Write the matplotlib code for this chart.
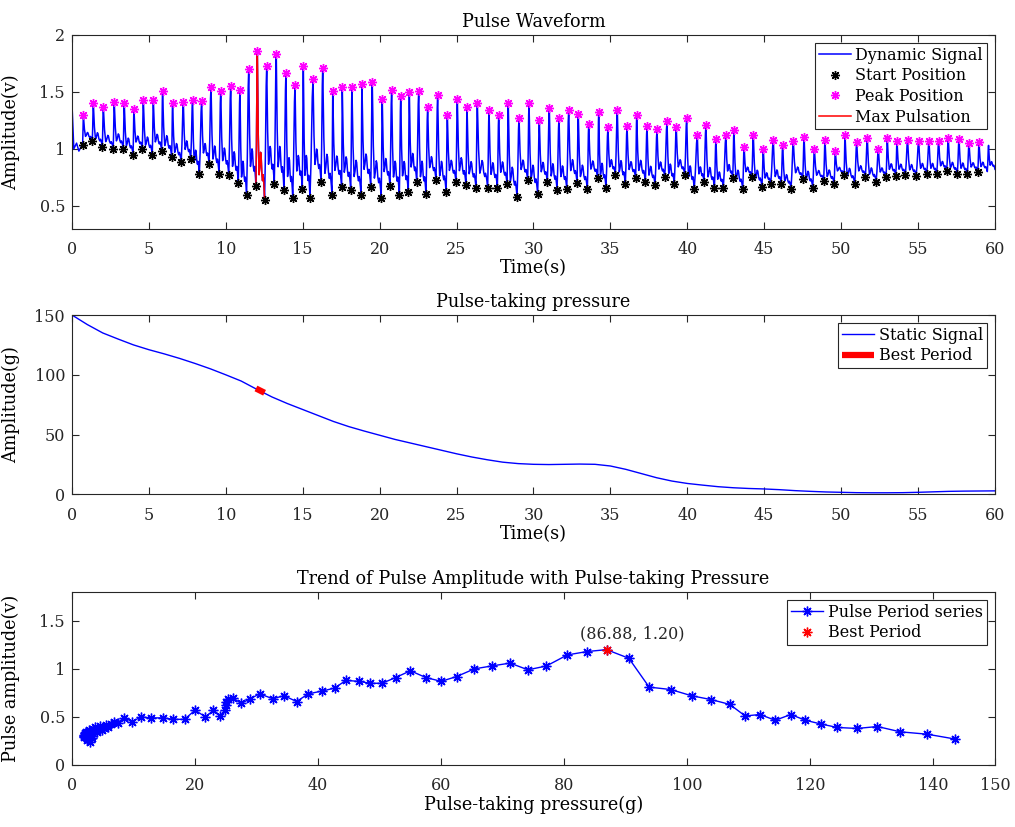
import numpy as np
import matplotlib
matplotlib.use("Agg")
import matplotlib.pyplot as plt
from matplotlib.ticker import FuncFormatter

# ---------------- Panel 1: pulse waveform ----------------
start_t = [0.69, 1.32, 1.97, 2.68, 3.33, 3.97, 4.57, 5.22, 5.83, 6.48, 7.10, 7.72, 8.28, 8.91, 9.56,
           10.19, 10.81, 11.35, 11.96, 12.52, 13.15, 13.78, 14.35, 14.97, 15.47, 16.19, 16.90, 17.53,
           18.12, 18.79, 19.42, 20.10, 20.67, 21.28, 21.86, 22.41, 23.01, 23.66, 24.32, 24.96, 25.61,
           26.26, 27.02, 27.65, 28.28, 28.93, 29.62, 30.27, 30.90, 31.53, 32.16, 32.83, 33.50, 34.17,
           34.71, 35.32, 35.97, 36.64, 37.27, 37.90, 38.53, 39.15, 39.83, 40.45, 41.08, 41.76, 42.34,
           42.95, 43.60, 44.19, 44.85, 45.42, 46.10, 46.74, 47.50, 48.15, 48.86, 49.54, 50.19, 50.88,
           51.57, 52.27, 52.92, 53.55, 54.17, 54.87, 55.56, 56.21, 56.86, 57.55, 58.20, 58.88]
start_v = [1.03, 1.07, 1.02, 1.00, 1.00, 0.95, 1.00, 0.95, 0.985, 0.93, 0.88, 0.91, 0.78, 0.87, 0.78,
           0.77, 0.70, 0.595, 0.67, 0.55, 0.687, 0.64, 0.57, 0.65, 0.57, 0.71, 0.595, 0.667,
           0.64, 0.595, 0.667, 0.57, 0.67, 0.595, 0.62, 0.705, 0.60, 0.725, 0.617, 0.71, 0.68,
           0.66, 0.66, 0.66, 0.69, 0.574, 0.725, 0.60, 0.705, 0.64, 0.65, 0.70, 0.643, 0.74,
           0.66, 0.77, 0.687, 0.74, 0.71, 0.68, 0.75, 0.69, 0.77, 0.65, 0.71, 0.66, 0.66,
           0.74, 0.646, 0.754, 0.667, 0.69, 0.69, 0.65, 0.733, 0.66, 0.72, 0.69, 0.77, 0.69,
           0.754, 0.71, 0.754, 0.763, 0.77, 0.76, 0.78, 0.78, 0.806, 0.78, 0.776, 0.797]
peak_t = [0.74, 1.39, 2.04, 2.75, 3.40, 4.03, 4.64, 5.29, 5.89, 6.54, 7.24, 7.84, 8.43, 9.04, 9.67,
          10.32, 10.92, 11.49, 12.05, 12.66, 13.28, 13.91, 14.50, 15.04, 15.67, 16.30, 16.95, 17.57,
          18.20, 18.85, 19.52, 20.17, 20.78, 21.37, 21.93, 22.54, 23.12, 23.77, 24.40, 25.05, 25.68,
          26.35, 27.11, 27.74, 28.36, 29.06, 29.71, 30.38, 31.03, 31.66, 32.29, 32.91, 33.59, 34.24,
          34.84, 35.45, 36.08, 36.71, 37.38, 38.03, 38.68, 39.28, 39.96, 40.65, 41.21, 41.86, 42.51,
          43.03, 43.69, 44.29, 44.94, 45.59, 46.20, 46.89, 47.59, 48.26, 48.95, 49.62, 50.25, 51.01,
          51.70, 52.42, 53.00, 53.63, 54.32, 55.04, 55.71, 56.34, 56.96, 57.66, 58.31, 58.96]
peak_v = [1.30, 1.40, 1.37, 1.41, 1.40, 1.35, 1.43, 1.43, 1.51, 1.40, 1.41, 1.43, 1.42, 1.545, 1.51,
          1.556, 1.52, 1.70, 1.86, 1.73, 1.83, 1.67, 1.56, 1.73, 1.61, 1.71, 1.51, 1.545,
          1.545, 1.565, 1.585, 1.435, 1.52, 1.46, 1.50, 1.51, 1.37, 1.47, 1.30, 1.435, 1.37,
          1.40, 1.34, 1.30, 1.40, 1.275, 1.40, 1.255, 1.355, 1.275, 1.34, 1.31, 1.22, 1.325,
          1.19, 1.34, 1.20, 1.30, 1.20, 1.17, 1.24, 1.19, 1.275, 1.12, 1.21, 1.087, 1.12,
          1.165, 1.02, 1.12, 1.00, 1.08, 1.035, 1.067, 1.107, 1.00, 1.078, 0.98, 1.124, 1.058,
          1.093, 1.00, 1.093, 1.067, 1.078, 1.067, 1.067, 1.067, 1.096, 1.087, 1.05, 1.058]
lead_t = [0.00, 0.02, 0.12, 0.30, 0.45, 0.60]
lead_v = [0.30, 1.33, 1.00, 1.05, 0.98, 1.02]
tail_t = [59.50, 59.58, 60.00]
tail_v = [0.80, 1.03, 0.82]
max_beat = 19  # beat drawn as "Max Pulsation"

# ---------------- Panel 2: pulse-taking pressure ----------------
time_s = list(range(0, 61))
press_g = [150, 142, 135, 129.9, 125, 121, 117.5, 113.7, 109.5, 105, 100, 94.8, 88, 81.5, 76, 71,
           66, 61, 56.7, 53, 49.5, 46, 43, 40, 37, 34, 31.3, 29, 27, 25.8, 25.2, 25, 25.2, 25.4,
           25.2, 23.8, 21, 17.5, 14, 11.2, 9.2, 7.8, 6.5, 5.6, 5, 4.6, 4, 3.2, 2.6, 2.1, 1.8, 1.5,
           1.4, 1.4, 1.5, 1.8, 2.2, 2.6, 2.8, 2.9, 3.0]
best_t = [11.96, 12.52]
best_g = [88.6, 85.0]

# ---------------- Panel 3: pulse amplitude vs pressure ----------------
period_p = [143.5, 139.0, 134.6, 130.9, 127.6, 124.4, 121.8, 119.2, 116.8, 114.3, 111.8, 109.4, 106.9,
            103.9, 100.7, 97.3, 93.8, 90.5, 86.88, 83.7, 80.5, 77.1, 74.1, 71.2, 68.2, 65.4, 62.5,
            60.0, 57.5, 55.0, 52.6, 50.4, 48.5, 46.6, 44.5, 42.7, 40.7, 38.4, 36.5, 34.5, 32.6,
            30.5, 29.0, 27.5, 26.1, 25.3, 25.1, 25.0, 24.8, 24.1, 23.0, 21.7, 20.0, 18.3, 16.5,
            14.8, 12.9, 11.2, 9.8, 8.5, 7.4, 6.8, 6.3, 5.9, 5.5, 5.2, 4.9, 4.6, 4.3, 4.1, 3.8,
            3.6, 3.4, 3.2, 3.0, 2.8, 2.6, 2.4, 2.3, 2.2, 2.1, 2.0, 2.0, 2.0, 2.1, 2.2, 2.4, 2.6,
            2.8, 3.0, 3.2, 3.3]
period_a = [0.27, 0.32, 0.345, 0.40, 0.38, 0.39, 0.425, 0.465, 0.525, 0.465, 0.525, 0.51, 0.63,
            0.68, 0.72, 0.785, 0.81, 1.11, 1.20, 1.18, 1.145, 1.03, 0.99, 1.06, 1.03, 1.00, 0.92,
            0.87, 0.91, 0.98, 0.91, 0.85, 0.85, 0.87, 0.88, 0.80, 0.77, 0.74, 0.66, 0.72, 0.69,
            0.74, 0.69, 0.64, 0.70, 0.69, 0.66, 0.62, 0.57, 0.51, 0.57, 0.50, 0.57, 0.475, 0.475,
            0.49, 0.49, 0.50, 0.45, 0.49, 0.44, 0.45, 0.43, 0.40, 0.42, 0.38, 0.36, 0.41, 0.37,
            0.34, 0.39, 0.35, 0.37, 0.34, 0.30, 0.36, 0.33, 0.29, 0.34, 0.31, 0.30, 0.31, 0.29,
            0.30, 0.33, 0.29, 0.26, 0.31, 0.27, 0.24, 0.30, 0.28]
best_p = 86.88
best_a = 1.20

# ---------------- waveform shape template (style of one beat) ----------------
rise_f = [0.0, 0.35, 0.75, 1.0]
rise_g = [0.0, 0.30, 0.85, 1.0]
fall_f = [0.0, 0.05, 0.12, 0.24, 0.34, 0.45, 0.52, 0.62, 0.72, 0.80, 0.87, 0.94, 1.0]
fall_g = [1.0, 0.78, 0.45, 0.17, 0.22, 0.32, 0.30, 0.18, 0.13, 0.17, 0.13, 0.07, 0.0]


def beat_segment(ts, vs, tp, vp, te, ve, include_end=False):
    tt, vv = [], []
    for f, g in zip(rise_f, rise_g):
        tt.append(ts + f * (tp - ts))
        vv.append(vs + g * (vp - vs))
    ff = fall_f[1:] if include_end else fall_f[1:-1]
    gg = fall_g[1:] if include_end else fall_g[1:-1]
    for f, g in zip(ff, gg):
        tt.append(tp + f * (te - tp))
        vv.append(ve + g * (vp - ve))
    return tt, vv


wave_t = list(lead_t)
wave_v = list(lead_v)
red_t, red_v = None, None
n = len(start_t)
for i in range(n):
    if i < n - 1:
        te, ve = start_t[i + 1], start_v[i + 1]
    else:
        te, ve = tail_t[0], tail_v[0]
    tt, vv = beat_segment(start_t[i], start_v[i], peak_t[i], peak_v[i], te, ve)
    wave_t += tt
    wave_v += vv
    if i == max_beat - 1:
        red_t, red_v = beat_segment(start_t[i], start_v[i], peak_t[i], peak_v[i], te, ve,
                                    include_end=True)
tt, vv = beat_segment(tail_t[0], tail_v[0], tail_t[1], tail_v[1], tail_t[2], tail_v[2],
                      include_end=True)
wave_t += tt
wave_v += vv

# ---------------- figure ----------------
plt.rcParams['font.family'] = ['DejaVu Serif']
plt.rcParams['mathtext.fontset'] = 'dejavuserif'
AX_COL = '#262626'
TICK_FS = 11.5
LAB_FS = 12.7

fig = plt.figure(figsize=(10.15, 8.27), dpi=100)
ax1 = fig.add_axes([0.0709, 0.7237, 0.9094, 0.2340])
ax2 = fig.add_axes([0.0709, 0.4021, 0.9094, 0.2170])
ax3 = fig.add_axes([0.0709, 0.0750, 0.9094, 0.2092])

fmt = FuncFormatter(lambda v, p: '%g' % v)
ast = (8, 2, 0)


def style(ax):
    for s in ax.spines.values():
        s.set_color(AX_COL)
        s.set_linewidth(0.8)
    ax.tick_params(direction='in', length=5, width=0.8, colors=AX_COL, labelsize=TICK_FS,
                   top=True, right=True, labelcolor='#262626')
    ax.tick_params(axis='x', pad=9)
    ax.tick_params(axis='y', pad=5)
    ax.yaxis.set_major_formatter(fmt)
    ax.xaxis.set_major_formatter(fmt)


def legend(ax, handles, labels):
    lg = ax.legend(handles, labels, loc='upper right', fontsize=TICK_FS, fancybox=False,
                   framealpha=1, edgecolor=AX_COL, borderpad=0.25, labelspacing=0.22,
                   handlelength=2.0, handletextpad=0.3, borderaxespad=0.5)
    lg.get_frame().set_linewidth(0.8)
    return lg


# Panel 1
l_dyn, = ax1.plot(wave_t, wave_v, color='#0000ff', lw=1.1, zorder=2)
l_red, = ax1.plot(red_t, red_v, color='#ff0000', lw=1.1, zorder=3)
l_st, = ax1.plot(start_t, start_v, ls='none', marker=ast, ms=6.5, mew=1.0, color='black', zorder=4)
l_pk, = ax1.plot(peak_t, peak_v, ls='none', marker=ast, ms=6.5, mew=1.0, color='#ff00ff', zorder=4)
ax1.set_xlim(0, 60)
ax1.set_ylim(0.3, 2)
ax1.set_xticks(np.arange(0, 61, 5))
ax1.set_yticks([0.5, 1, 1.5, 2])
style(ax1)
ax1.set_title('Pulse Waveform', fontsize=LAB_FS, color='black', pad=6)
ax1.set_xlabel('Time(s)', fontsize=LAB_FS, labelpad=1)
ax1.set_ylabel('Amplitude(v)', fontsize=LAB_FS)
legend(ax1, [l_dyn, l_st, l_pk, l_red],
       ['Dynamic Signal', 'Start Position', 'Peak Position', 'Max Pulsation'])

# Panel 2
l_stat, = ax2.plot(time_s, press_g, color='#0000ff', lw=1.0, zorder=2)
l_best, = ax2.plot(best_t, best_g, color='#ff0000', lw=4.5, solid_capstyle='butt', zorder=3)
ax2.set_xlim(0, 60)
ax2.set_ylim(0, 150)
ax2.set_xticks(np.arange(0, 61, 5))
ax2.set_yticks([0, 50, 100, 150])
style(ax2)
ax2.set_title('Pulse-taking pressure', fontsize=LAB_FS, color='black', pad=6)
ax2.set_xlabel('Time(s)', fontsize=LAB_FS, labelpad=1)
ax2.set_ylabel('Amplitude(g)', fontsize=LAB_FS)
legend(ax2, [l_stat, l_best], ['Static Signal', 'Best Period'])

# Panel 3
l_ser, = ax3.plot(period_p, period_a, color='#0000ff', lw=1.0, marker=ast, ms=7, mew=1.0, zorder=2)
l_bp, = ax3.plot([best_p], [best_a], ls='none', marker=ast, ms=7, mew=1.0, color='#ff0000', zorder=3)
ax3.annotate('(%.2f, %.2f)' % (best_p, best_a), xy=(best_p, best_a), xytext=(-27, 16),
             textcoords='offset pixels', ha='left', va='center', fontsize=TICK_FS, color='#262626')
ax3.set_xlim(0, 150)
ax3.set_ylim(0, 1.8)
ax3.set_xticks([0, 20, 40, 60, 80, 100, 120, 140, 150])
ax3.set_yticks([0, 0.5, 1, 1.5])
style(ax3)
ax3.set_title('Trend of Pulse Amplitude with Pulse-taking Pressure', fontsize=LAB_FS,
              color='black', pad=6)
ax3.set_xlabel('Pulse-taking pressure(g)', fontsize=LAB_FS, labelpad=1)
ax3.set_ylabel('Pulse amplitude(v)', fontsize=LAB_FS)
legend(ax3, [l_ser, l_bp], ['Pulse Period series', 'Best Period'])

for ax in (ax1, ax2, ax3):
    ax.yaxis.set_label_coords(-0.056, 0.5)

fig.savefig('out.png', dpi=100)
